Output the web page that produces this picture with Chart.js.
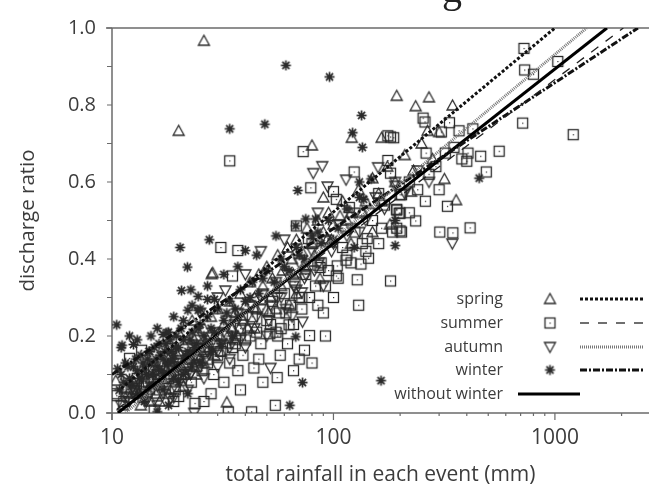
<!DOCTYPE html>
<html>
<head>
<meta charset="utf-8">
<script src="https://cdn.jsdelivr.net/npm/chart.js@4.4.1/dist/chart.umd.min.js"></script>
<style>
  html, body { margin: 0; padding: 0; background: #fff; }
</style>
</head>
<body>
<canvas id="chart" width="661" height="494"></canvas>
<script>
// series names, in legend order
const seriesNames = ['spring', 'summer', 'autumn', 'winter', 'without winter'];

// scatter points per season: [rainfall mm, discharge ratio]
const springPts = [
  [26,0.967],[20,0.733],[193,0.824],[270,0.82],[235,0.797],[345,0.799],[266,0.733],[317,0.608],
  [224,0.575],[358,0.553],[121,0.715],[165,0.715],[80,0.695],[90,0.56],[107,0.512],[94,0.453],
  [87,0.349],[63,0.282],[51,0.262],[28.2,0.361],[28.5,0.364],[33,0.028],[16.4,0.03],[10.4,0.084],
  [11.6,0.066],[13,0.06],[14,0.1],[15,0.09],[16,0.12],[17,0.08],[18,0.14],[19,0.11],[20,0.16],
  [21,0.13],[22,0.19],[23,0.15],[24,0.2],[25,0.17],[26,0.22],[27,0.19],[28,0.25],[29,0.2],
  [30,0.27],[32,0.23],[34,0.29],[36,0.26],[38,0.31],[40,0.28],[42,0.34],[44,0.3],[46,0.36],
  [48,0.33],[50,0.38],[53,0.35],[56,0.41],[59,0.37],[62,0.43],[65,0.4],[68,0.45],[72,0.42],
  [76,0.48],[80,0.44],[85,0.5],[90,0.47],[95,0.52],[100,0.49],[110,0.55],[120,0.52],[130,0.58],
  [140,0.55],[150,0.61],[160,0.57],[175,0.64],[190,0.6],[210,0.67],[230,0.63],[250,0.7],
  [280,0.66],[300,0.73],[15,0.03],[18,0.05],[21,0.07],[24,0.1],[12,0.04],[13.5,0.02],[17,0.17],
  [20,0.21],[23,0.24],[31,0.16],[36,0.19],[44,0.22],[55,0.27],[68,0.31],[120,0.44],[150,0.47],
  [180,0.49],
  [11.2,0.02],[11.8,0.05],[12.5,0.08],[13.2,0.05],[13.8,0.08],[14.5,0.06],[15.2,0.11],[15.8,0.05],
  [16.5,0.1],[17.3,0.12],[18.2,0.1],[19.2,0.08],[20.5,0.12],[21.5,0.1],[22.5,0.14],[23.5,0.12],
  [24.5,0.15],[26,0.13],[27.5,0.17],[29,0.15],[31,0.2],[33,0.18],[35,0.22],[37,0.2],[39,0.24],
  [41,0.22],[45,0.27],[52,0.3],[58,0.33],[66,0.36],[74,0.38],[82,0.41],[98,0.45],[115,0.5],
  [135,0.52],[165,0.55]
];
const summerPts = [
  [725,0.947],[730,0.891],[800,0.88],[1030,0.913],[715,0.753],[1210,0.723],[254,0.766],[259,0.756],
  [334,0.754],[307,0.73],[369,0.733],[426,0.738],[187,0.715],[262,0.675],[320,0.675],[405,0.675],
  [462,0.667],[400,0.654],[560,0.68],[490,0.626],[327,0.537],[235,0.499],[414,0.481],[302,0.47],
  [346,0.468],[203,0.47],[198,0.519],[193,0.529],[203,0.567],[34,0.655],[73,0.679],[181,0.717],
  [176,0.72],[124,0.626],[176,0.656],[181,0.623],[79,0.585],[100,0.575],[103,0.555],[160,0.57],
  [200,0.567],[118,0.534],[193,0.527],[200,0.519],[68,0.486],[193,0.48],[200,0.473],[77,0.453],
  [80,0.44],[142,0.453],[114,0.397],[144,0.402],[133,0.387],[85,0.384],[87,0.378],[104,0.382],
  [103,0.356],[128,0.346],[181,0.343],[31,0.43],[37,0.422],[35,0.356],[63,0.229],[72,0.3],
  [78,0.201],[51.6,0.206],[55,0.21],[58,0.219],[57.5,0.15],[70,0.14],[74,0.163],[80,0.13],
  [43.7,0.117],[55.7,0.092],[54.6,0.02],[33.5,0.003],[42.7,0.003],[13.6,0.163],[12,0.142],
  [10.4,0.05],[10.5,0.045],[12.9,0.076],[15.5,0.008],[23.7,0.025],[20,0.043],[18.6,0.168],
  [14,0.07],[16,0.1],[18,0.09],[19,0.12],[21,0.1],[22,0.14],[24,0.12],[26,0.16],[27,0.13],
  [29,0.18],[30,0.15],[33,0.2],[35,0.17],[38,0.22],[40,0.19],[43,0.25],[45,0.21],[48,0.27],
  [50,0.24],[53,0.29],[57,0.26],[60,0.31],[64,0.28],[67,0.34],[70,0.3],[75,0.36],[83,0.33],
  [88,0.39],[95,0.37],[110,0.43],[115,0.41],[125,0.47],[135,0.44],[150,0.5],[165,0.48],
  [170,0.54],[220,0.6],[240,0.58],[270,0.62],[290,0.64],[350,0.69],[380,0.66],[28,0.05],
  [32,0.08],[37,0.11],[46,0.14],[62,0.18],[90,0.26],[100,0.3],
  [11.3,0.03],[12.2,0.06],[13,0.09],[13.8,0.04],[14.6,0.08],[15.4,0.11],[16.4,0.06],[17.2,0.09],
  [18.2,0.12],[19.3,0.06],[20.4,0.1],[21.6,0.13],[22.8,0.08],[24.2,0.15],[25.5,0.11],[27.2,0.14],
  [28.8,0.1],[31,0.16],[34,0.13],[36,0.18],[39,0.15],[42,0.2],[47,0.18],[52,0.23],[56,0.2],
  [61,0.26],[66,0.23],[72,0.27],[78,0.3],[85,0.28],[92,0.33],[105,0.35],[120,0.39],[140,0.42],
  [160,0.44],[185,0.47],[220,0.52],[260,0.55],[300,0.58],[19,0.03],[26,0.03],[38,0.06],[48,0.08],
  [66,0.11],[92,0.2],[130,0.28]
];
const autumnPts = [
  [89,0.641],[159,0.638],[114,0.606],[190,0.6],[94,0.588],[131,0.47],[47,0.42],[32.5,0.318],
  [72.5,0.237],[72,0.313],[52,0.117],[12.4,0.066],[23.5,0.0],[18.4,0.038],[81,0.623],[344,0.44],
  [12,0.03],[13,0.07],[14,0.05],[15,0.09],[16,0.07],[17,0.11],[18,0.09],[19,0.13],[20,0.1],
  [21,0.15],[22,0.12],[23,0.17],[24,0.14],[25,0.19],[27,0.16],[29,0.21],[31,0.18],[33,0.24],
  [35,0.2],[37,0.26],[39,0.23],[42,0.28],[45,0.25],[48,0.31],[52,0.28],[55,0.34],[58,0.3],
  [62,0.36],[66,0.33],[70,0.39],[75,0.36],[80,0.42],[86,0.39],[92,0.45],[98,0.42],[105,0.49],
  [115,0.46],[125,0.52],[140,0.5],[155,0.56],[170,0.53],[190,0.59],[210,0.57],[240,0.63],
  [270,0.6],[16,0.02],[19,0.04],[22,0.06],[26,0.09],[30,0.12],[34,0.14],[40,0.17],[50,0.2],
  [65,0.25],[90,0.33],[25,0.26],[30,0.3],[40,0.36],[60,0.45],[85,0.52],
  [11,0.02],[11.7,0.04],[12.6,0.06],[13.4,0.1],[14.3,0.03],[15.2,0.06],[16.1,0.1],[17.1,0.05],
  [18.1,0.12],[19.1,0.07],[20.2,0.13],[21.4,0.09],[22.6,0.1],[23.8,0.15],[25,0.12],[26.5,0.14],
  [28,0.18],[30,0.16],[32,0.21],[34,0.17],[36,0.23],[38,0.19],[41,0.25],[44,0.22],[47,0.27],
  [51,0.24],[56,0.3],[61,0.27],[68,0.32],[74,0.35],[82,0.37],[100,0.44],[120,0.48],[145,0.52]
];
const winterPts = [
  [61,0.903],[96,0.873],[34,0.738],[49,0.75],[134,0.773],[122,0.728],[135,0.69],[131,0.6],
  [148,0.608],[69,0.578],[131,0.56],[137,0.555],[75,0.504],[83,0.504],[67.6,0.486],[124,0.43],
  [190,0.435],[190,0.5],[455,0.61],[40,0.422],[67.6,0.198],[72.5,0.079],[63.5,0.02],[20.3,0.43],
  [21.9,0.379],[20.6,0.318],[22.7,0.32],[24.5,0.303],[27,0.295],[29,0.295],[22,0.267],[24.5,0.267],
  [10.5,0.229],[11.1,0.176],[12.5,0.178],[14.7,0.16],[17.7,0.209],[17,0.204],[10.6,0.115],[16,0.003],
  [164,0.084],[27.5,0.45],
  [11,0.1],[11.5,0.13],[12,0.09],[12.5,0.12],[13,0.11],[13.5,0.15],[14,0.12],[14.5,0.14],[15,0.13],
  [15.5,0.17],[16,0.12],[16.5,0.15],[17,0.14],[17.5,0.18],[18,0.13],[18.5,0.16],[19,0.15],
  [19.5,0.2],[20,0.17],[21,0.19],[22,0.16],[23,0.21],[24,0.18],[25,0.23],[26,0.2],[27,0.25],
  [28,0.22],[30,0.27],[32,0.24],[34,0.29],[36,0.27],[38,0.32],[40,0.29],[43,0.34],[46,0.31],
  [50,0.37],[54,0.34],[58,0.4],[63,0.37],[68,0.43],[74,0.4],[80,0.46],[88,0.44],[95,0.5],
  [105,0.48],[115,0.53],[13,0.05],[15,0.07],[17,0.06],[19,0.09],[21,0.1],[23,0.12],[14,0.03],
  [18,0.02],[20,0.08],[22,0.05],[25,0.13],[28,0.16],[31,0.18],[35,0.2],[12,0.2],[16,0.22],
  [19,0.25],[23,0.28],[27,0.33],[32,0.36],[37,0.38],[45,0.41],[55,0.46],
  [10.8,0.06],[11.3,0.08],[11.8,0.12],[12.3,0.07],[12.8,0.14],[13.3,0.09],[13.8,0.13],[14.3,0.1],
  [14.8,0.16],[15.3,0.1],[15.8,0.14],[16.3,0.18],[16.8,0.11],[17.3,0.16],[17.8,0.13],[18.3,0.19],
  [18.8,0.14],[19.3,0.17],[19.8,0.12],[20.5,0.22],[21.5,0.15],[22.5,0.19],[23.5,0.17],[24.5,0.22],
  [26.5,0.18],[29,0.21],[33,0.26],[37,0.25],[42,0.3],[48,0.35],[60,0.38],[70,0.41],[85,0.47],
  [100,0.45],[11,0.17],[13,0.19],[15,0.2],[18,0.21],[21,0.24],[25,0.27]
];

// fitted lines, end points
const springLine = [[11, 0.064], [1000, 1.0]];
const summerLine = [[10.5, 0.009], [2037, 1.0]];
const autumnLine = [[11.5, 0.0], [1390, 1.0]];
const winterLine = [[10, 0.1], [2371, 1.0]];
const withoutWinterLine = [[10.63, 0.0], [1718, 1.0]];

const xMajorTicks = [10, 100, 1000];
const textColor = '#3c3c3c';
const axisColor = '#6b6b6b';

function makeMarker(draw) {
    const c = document.createElement('canvas');
    c.width = 15; c.height = 15;
    const g = c.getContext('2d');
    g.strokeStyle = '#2a2a2a';
    g.fillStyle = '#2a2a2a';
    g.lineWidth = 1.3;
    draw(g);
    return c;
}

const triMarker = makeMarker(g => {
    g.beginPath(); g.moveTo(7.5, 2); g.lineTo(13, 12); g.lineTo(2, 12); g.closePath(); g.stroke();
});
const squareMarker = makeMarker(g => {
    g.strokeRect(2.5, 2.5, 10, 10);
    g.fillRect(7, 7, 1.2, 1.2);
});
const invTriMarker = makeMarker(g => {
    g.beginPath(); g.moveTo(2, 3); g.lineTo(13, 3); g.lineTo(7.5, 13); g.closePath(); g.stroke();
});
const starMarker = makeMarker(g => {
    g.lineWidth = 1.7;
    for (let a = 0; a < 4; a++) {
        const ang = a * Math.PI / 4;
        g.beginPath();
        g.moveTo(7.5 - 5 * Math.cos(ang), 7.5 - 5 * Math.sin(ang));
        g.lineTo(7.5 + 5 * Math.cos(ang), 7.5 + 5 * Math.sin(ang));
        g.stroke();
    }
    g.fillRect(5.5, 5.5, 4, 4);
});

const toXY = arr => arr.map(p => ({ x: p[0], y: p[1] }));

const lineStyles = [
    { data: springLine, width: 3, dash: [3, 2], color: '#111' },
    { data: summerLine, width: 1.3, dash: [9, 9], color: '#222' },
    { data: autumnLine, width: 3, dash: [1, 1], color: '#777' },
    { data: winterLine, width: 3, dash: [7, 2, 2, 2], color: '#111' },
    { data: withoutWinterLine, width: 3, dash: [], color: '#000' }
];
const markers = [triMarker, squareMarker, invTriMarker, starMarker];
const pointSets = [springPts, summerPts, autumnPts, winterPts];

const datasets = [];
pointSets.forEach((pts, i) => {
    datasets.push({
        type: 'scatter',
        label: seriesNames[i],
        data: toXY(pts),
        pointStyle: markers[i],
        order: 2
    });
});
lineStyles.forEach((ls, i) => {
    datasets.push({
        type: 'line',
        label: seriesNames[i] + ' fit',
        data: toXY(ls.data),
        borderColor: ls.color,
        borderWidth: ls.width,
        borderDash: ls.dash,
        pointRadius: 0,
        fill: false,
        order: 1
    });
});

// axes frame + tick marks, legend, clipped title
const framePlugin = {
    id: 'frame',
    beforeDatasetsDraw(chart) {
        const { ctx, chartArea: a, scales: { x, y } } = chart;
        ctx.save();
        ctx.strokeStyle = axisColor;
        ctx.lineWidth = 1.5;
        ctx.beginPath();
        ctx.moveTo(a.left - 6, a.top); ctx.lineTo(a.right, a.top);
        ctx.moveTo(a.left - 6, a.bottom); ctx.lineTo(a.right, a.bottom);
        ctx.moveTo(a.left, a.top); ctx.lineTo(a.left, a.bottom + 7);
        ctx.stroke();
        ctx.lineWidth = 1.2;
        ctx.beginPath();
        for (let i = 0; i <= 10; i++) {
            const py = y.getPixelForValue(i / 10);
            ctx.moveTo(a.left - 5, py); ctx.lineTo(a.left, py);
        }
        xMajorTicks.forEach(d => {
            for (let k = 1; k <= 9; k++) {
                const v = k * d;
                if (v > x.max) continue;
                const px = x.getPixelForValue(v);
                ctx.moveTo(px, a.bottom); ctx.lineTo(px, a.bottom + (k === 1 ? 7 : 3));
            }
        });
        ctx.stroke();
        ctx.restore();
    },
    afterDraw(chart) {
        const { ctx } = chart;
        ctx.save();
        ctx.fillStyle = '#222';
        ctx.font = '40px "Liberation Serif"';
        ctx.textAlign = 'left';
        ctx.textBaseline = 'alphabetic';
        ctx.fillText('g', 442, 2);

        const rowsY = [299, 323, 347, 370, 394];
        ctx.font = '16px "Open Sans"';
        ctx.textAlign = 'right';
        ctx.textBaseline = 'middle';
        seriesNames.forEach((name, i) => {
            const ry = rowsY[i];
            ctx.fillStyle = textColor;
            ctx.fillText(name, 503, ry);
            const ls = lineStyles[i];
            ctx.strokeStyle = ls.color;
            ctx.lineWidth = ls.width;
            ctx.setLineDash(ls.dash);
            ctx.beginPath();
            if (i < 4) {
                ctx.drawImage(markers[i], 550 - 7.5, ry - 7.5);
                ctx.moveTo(580, ry); ctx.lineTo(643, ry);
            } else {
                ctx.moveTo(518, ry); ctx.lineTo(580, ry);
            }
            ctx.stroke();
            ctx.setLineDash([]);
        });
        ctx.restore();
    }
};

new Chart(document.getElementById('chart'), {
    data: { datasets },
    options: {
        responsive: false,
        animation: false,
        layout: { padding: { top: 20, right: 0, left: 0, bottom: 0 } },
        plugins: { legend: { display: false }, tooltip: { enabled: false } },
        scales: {
            x: {
                type: 'logarithmic',
                min: 10,
                max: 2660,
                afterFit: s => { s.height = 81; },
                grid: { display: false, drawTicks: false },
                border: { display: false },
                ticks: {
                    autoSkip: false,
                    maxRotation: 0,
                    padding: 12,
                    color: textColor,
                    font: { family: 'Open Sans', size: 21 },
                    callback: v => xMajorTicks.includes(v) ? String(v) : ''
                },
                title: {
                    display: true,
                    text: 'total rainfall in each event (mm)',
                    color: textColor,
                    font: { family: 'Open Sans', size: 21 },
                    padding: { top: 0, bottom: 6 }
                }
            },
            y: {
                min: 0,
                max: 1,
                afterFit: s => { s.width = 112; },
                grid: { display: false, drawTicks: false },
                border: { display: false },
                ticks: {
                    stepSize: 0.1,
                    autoSkip: false,
                    padding: 16,
                    color: textColor,
                    font: { family: 'Open Sans', size: 20 },
                    callback: v => Math.round(v * 10) % 2 === 0 ? v.toFixed(1) : ''
                },
                title: {
                    display: true,
                    text: 'discharge ratio',
                    color: textColor,
                    font: { family: 'Open Sans', size: 20.5 },
                    padding: { top: 16, bottom: 0 }
                }
            }
        }
    },
    plugins: [framePlugin]
});
</script>
</body>
</html>
